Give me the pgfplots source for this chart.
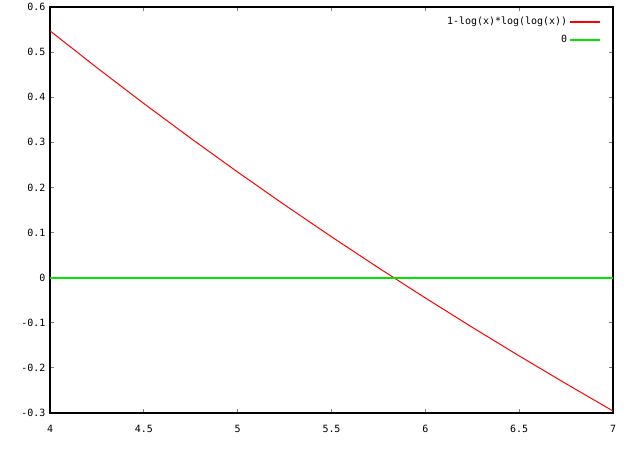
\documentclass[border=0pt]{standalone}
\usepackage{fontspec}
\setmonofont{DejaVu Sans Mono}
\usepackage{pgfplots}
\pgfplotsset{compat=1.18}
\definecolor{gpred}{RGB}{255,0,0}
\definecolor{gpgreen}{RGB}{0,230,0}
\begin{document}
\begin{tikzpicture}
\begin{axis}[
  name=ax,
  scale only axis,
  width=563bp, height=406bp,
  xmin=4, xmax=7, ymin=-0.3, ymax=0.6,
  xtick={4,4.5,...,7}, ytick={-0.3,-0.2,...,0.61},
  axis line style={line width=1.2bp},
  major tick style={line width=1.2bp},
  tick align=inside,
  major tick length=4bp,
  xtick pos=both, ytick pos=both,
  xticklabel pos=bottom, yticklabel pos=left,
  /pgf/number format/assume math mode=true,
  /pgf/number format/fixed,
  /pgf/number format/precision=1,
  tick label style={font=\ttfamily\fontsize{10}{12}\selectfont},
  xticklabel style={yshift=-9bp},
  yticklabel style={xshift=-1bp},
  legend style={draw=none, fill=none, at={(rel axis cs:1,1)}, anchor=north east,
    xshift=-9bp, yshift=-6bp, font=\ttfamily\fontsize{10}{12}\selectfont,
    row sep=5bp},
  legend cell align=right,
  legend plot pos=right,
  legend image code/.code={\draw[#1, line width=1.8bp] (0bp,0bp) -- (30bp,0bp);},
]
\addplot[color=gpred, line width=1bp, mark=none] coordinates {
(4,0.547183) (4.25,0.465452) (4.5,0.386058) (4.75,0.308974) (5,0.234093)
(5.25,0.161351) (5.5,0.090659) (5.75,0.021922) (6,-0.044951) (6.25,-0.110042)
(6.5,-0.173437) (6.75,-0.235200) (7,-0.295620)};
\addlegendentry{1-log(x)*log(log(x))}
\addplot[color=gpgreen, line width=1.8bp, mark=none] coordinates {(4,0) (5,0) (6,0) (7,0)};
\addlegendentry{0}
\end{axis}
\pgfresetboundingbox
\path ([shift={(-50bp,-37bp)}]ax.south west) rectangle ([shift={(27bp,7bp)}]ax.north east);
\end{tikzpicture}
\end{document}
